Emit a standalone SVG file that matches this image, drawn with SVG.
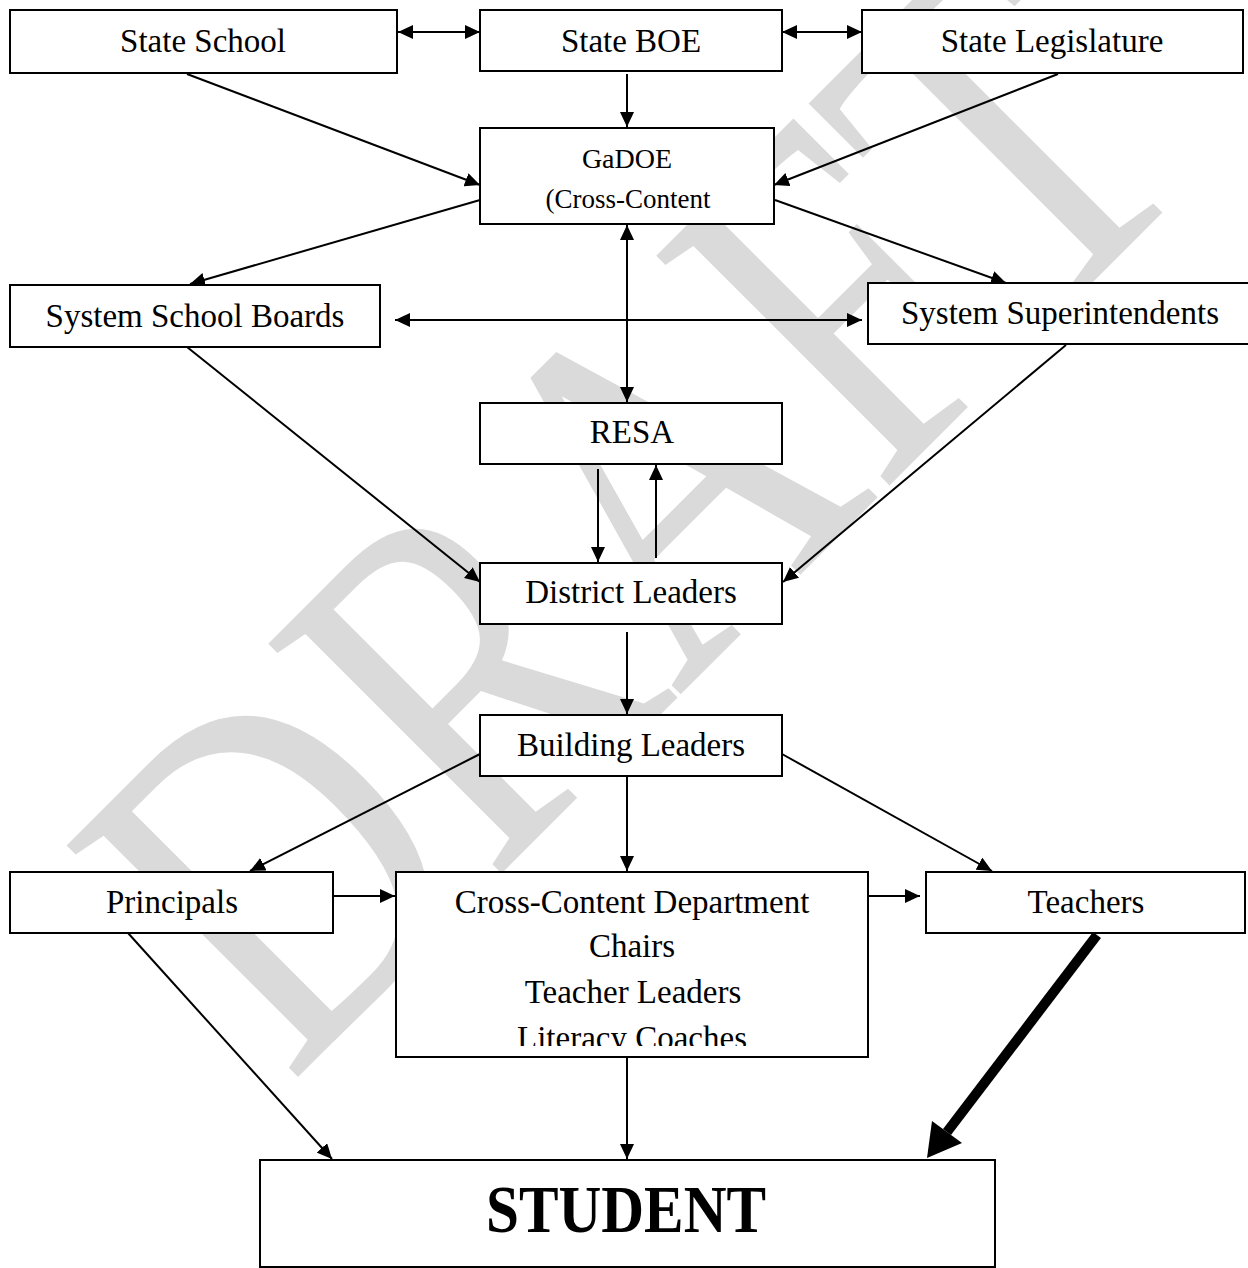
<svg xmlns="http://www.w3.org/2000/svg" width="1248" height="1268" viewBox="0 0 1248 1268">
<style>
.box{fill:#fff;stroke:#000;stroke-width:2}
.lbl{font-family:"Liberation Serif","Times New Roman",serif;font-size:33px;fill:#000;text-anchor:middle}
.sm{font-size:27px}
.con{stroke:#000;stroke-width:2;fill:none}
.wm{font-family:"Liberation Serif","Times New Roman",serif;font-size:500px;fill:#dadada}
</style>
<defs>
<marker id="ah" markerUnits="userSpaceOnUse" markerWidth="15" markerHeight="14" refX="15" refY="7" orient="auto-start-reverse">
<path d="M0,0 L15,7 L0,14 z" fill="#000"/>
</marker>
<clipPath id="ccclip"><rect x="397" y="873" width="470" height="173"/></clipPath>
</defs>
<rect width="1248" height="1268" fill="#fff"/>
<text class="wm" transform="translate(290,1085) rotate(-45) scale(0.79,1)">DRAFT</text>
<g id="connectors">
<path class="con" d="M398,32 L480,32" marker-start="url(#ah)" marker-end="url(#ah)"/>
<path class="con" d="M782,32 L862,32" marker-start="url(#ah)" marker-end="url(#ah)"/>
<path class="con" d="M627,74 L627,127" marker-end="url(#ah)"/>
<path class="con" d="M187,74 L480,185" marker-end="url(#ah)"/>
<path class="con" d="M1058,74 L774,185" marker-end="url(#ah)"/>
<path class="con" d="M480,200 L190,284" marker-end="url(#ah)"/>
<path class="con" d="M775,200 L1006,283" marker-end="url(#ah)"/>
<path class="con" d="M395,320 L862,320" marker-start="url(#ah)" marker-end="url(#ah)"/>
<path class="con" d="M627,225 L627,402" marker-start="url(#ah)" marker-end="url(#ah)"/>
<path class="con" d="M187,347 L480,582" marker-end="url(#ah)"/>
<path class="con" d="M1066,345 L783,582" marker-end="url(#ah)"/>
<path class="con" d="M598,469 L598,562" marker-end="url(#ah)"/>
<path class="con" d="M656,558 L656,465" marker-end="url(#ah)"/>
<path class="con" d="M627,632 L627,714" marker-end="url(#ah)"/>
<path class="con" d="M480,754 L250,871" marker-end="url(#ah)"/>
<path class="con" d="M627,777 L627,871" marker-end="url(#ah)"/>
<path class="con" d="M782,754 L992,871" marker-end="url(#ah)"/>
<path class="con" d="M334,896 L395,896" marker-end="url(#ah)"/>
<path class="con" d="M869,896 L920,896" marker-end="url(#ah)"/>
<path class="con" d="M128,933 L332,1159" marker-end="url(#ah)"/>
<path class="con" d="M627,1058 L627,1159" marker-end="url(#ah)"/>
<path d="M1097,935 L947,1132" stroke="#000" stroke-width="10" fill="none"/>
<polygon points="927,1158 932,1121 962,1143" fill="#000"/>
</g>
<g id="state-school"><rect class="box" x="10" y="10" width="387" height="63"/><text class="lbl" x="203" y="52">State School</text></g>
<g id="state-boe"><rect class="box" x="480" y="10" width="302" height="61"/><text class="lbl" x="631" y="52">State BOE</text></g>
<g id="state-legislature"><rect class="box" x="862" y="10" width="381" height="63"/><text class="lbl" x="1052" y="52">State Legislature</text></g>
<g id="gadoe"><rect class="box" x="480" y="128" width="294" height="96"/><text class="lbl" x="627" y="168" style="font-size:28px">GaDOE</text><text class="lbl sm" x="628" y="208">(Cross-Content</text></g>
<g id="system-school-boards"><rect class="box" x="10" y="285" width="370" height="62"/><text class="lbl" x="195" y="327">System School Boards</text></g>
<g id="system-superintendents"><rect class="box" x="868" y="283" width="392" height="61"/><text class="lbl" x="1060" y="324">System Superintendents</text></g>
<g id="resa"><rect class="box" x="480" y="403" width="302" height="61"/><text class="lbl" x="632" y="443">RESA</text></g>
<g id="district-leaders"><rect class="box" x="480" y="563" width="302" height="61"/><text class="lbl" x="631" y="603">District Leaders</text></g>
<g id="building-leaders"><rect class="box" x="480" y="715" width="302" height="61"/><text class="lbl" x="631" y="756">Building Leaders</text></g>
<g id="principals"><rect class="box" x="10" y="872" width="323" height="61"/><text class="lbl" x="172" y="913">Principals</text></g>
<g id="cross-content"><rect class="box" x="396" y="872" width="472" height="185"/>
<g clip-path="url(#ccclip)">
<text class="lbl" x="632" y="913">Cross-Content Department</text>
<text class="lbl" x="632" y="957">Chairs</text>
<text class="lbl" x="633" y="1003">Teacher Leaders</text>
<text class="lbl" x="632" y="1049">Literacy Coaches</text>
</g></g>
<g id="teachers"><rect class="box" x="926" y="872" width="319" height="61"/><text class="lbl" x="1086" y="913">Teachers</text></g>
<g id="student"><rect class="box" x="260" y="1160" width="735" height="107"/><text class="lbl" x="626" y="1232" style="font-size:68px;font-weight:bold" textLength="280" lengthAdjust="spacingAndGlyphs">STUDENT</text></g>
</svg>
